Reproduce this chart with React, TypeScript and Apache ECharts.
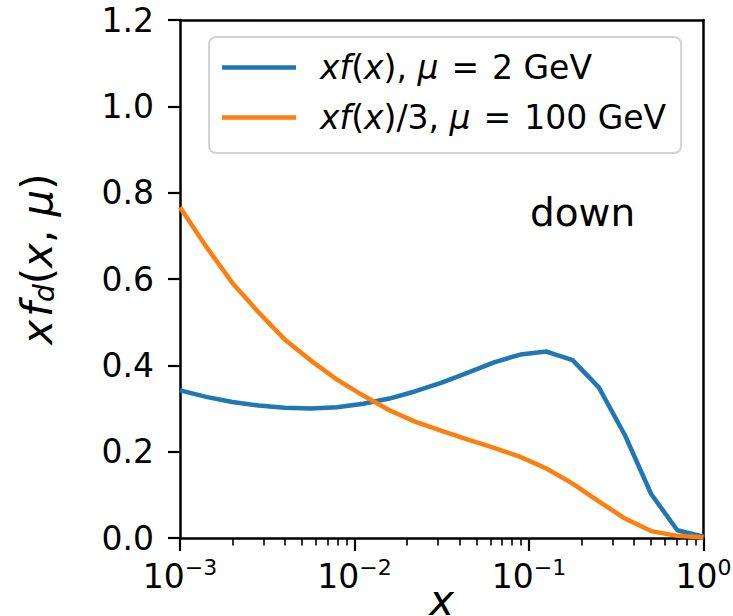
import React, { useEffect, useRef } from "react";
import * as echarts from "echarts";

const FONT = "DejaVu Sans";

// x grid (log-spaced sample points)
const xValues = [
  0.001, 0.001413, 0.001995, 0.002818, 0.003981, 0.005623, 0.007943, 0.01122,
  0.01585, 0.02239, 0.03162, 0.04467, 0.0631, 0.08913, 0.1259, 0.1778, 0.2512,
  0.3548, 0.5012, 0.7079, 1.0,
];
// xf(x), mu = 2 GeV
const blueValues = [
  0.342, 0.327, 0.315, 0.307, 0.302, 0.3, 0.303, 0.311, 0.323, 0.34, 0.36,
  0.383, 0.407, 0.425, 0.432, 0.412, 0.349, 0.238, 0.102, 0.018, 0.003,
];
// xf(x)/3, mu = 100 GeV
const orangeValues = [
  0.766, 0.675, 0.591, 0.523, 0.46, 0.411, 0.367, 0.33, 0.296, 0.269, 0.248,
  0.228, 0.209, 0.188, 0.161, 0.126, 0.085, 0.045, 0.016, 0.005, 0.001,
];
const seriesNames = ["xf(x), μ = 2 GeV", "xf(x)/3, μ = 100 GeV"];
const legendRich = [
  "{g| }{i|xf}{n|(}{i|x}{n|), }{i|μ}{e|=}{n|2 GeV}",
  "{g| }{i|xf}{n|(}{i|x}{n|)/3, }{i|μ}{e|=}{n|100 GeV}",
];
const yTicks = { min: 0, max: 1.2, interval: 0.2 };
const xRange = { min: 0.001, max: 1 };
const annotation = "down";

export default function App() {
  const ref = useRef<HTMLDivElement>(null);
  useEffect(() => {
    document.body.style.margin = "0";
    const chart = echarts.init(ref.current!, undefined, { renderer: "svg" });
    const pair = (ys: number[]) => xValues.map((x, i) => [x, ys[i]]);
    const tickLabel = (v: number) => {
      const e = Math.round(Math.log10(v));
      return "{b|10}{s|" + (e < 0 ? "−" + -e : String(e)) + "}";
    };
    const frameLine = { show: true, onZero: false, lineStyle: { color: "#000", width: 2.5 } };
    chart.setOption({
      animation: false,
      backgroundColor: "#ffffff",
      textStyle: { fontFamily: FONT },
      grid: {
        left: 180,
        right: 29.5,
        top: 20,
        bottom: 78,
        containLabel: false,
        outerBoundsMode: "none",
      },
      xAxis: [
        {
          type: "log",
          logBase: 10,
          min: xRange.min,
          max: xRange.max,
          name: "x",
          nameLocation: "middle",
          nameGap: 41,
          nameMoveOverlap: false,
          nameTextStyle: {
            fontFamily: FONT,
            fontSize: 42,
            fontStyle: "italic",
            color: "#000",
            lineHeight: 42,
          },
          axisLine: frameLine,
          axisTick: { show: true, length: 13, inside: false, lineStyle: { color: "#000", width: 2.2 } },
          minorTick: { show: true, splitNumber: 9, length: 7.5, lineStyle: { color: "#000", width: 1.6 } },
          splitLine: { show: false },
          minorSplitLine: { show: false },
          axisLabel: {
            margin: 18,
            color: "#000",
            fontFamily: FONT,
            formatter: tickLabel,
            rich: {
              b: { fontSize: 33, lineHeight: 40, fontFamily: FONT, color: "#000" },
              s: { fontSize: 22, lineHeight: 25, verticalAlign: "top", fontFamily: FONT, color: "#000" },
            },
          },
        },
        {
          type: "log",
          logBase: 10,
          position: "top",
          min: xRange.min,
          max: xRange.max,
          axisLine: frameLine,
          axisTick: { show: false },
          axisLabel: { show: false },
          splitLine: { show: false },
        },
      ],
      yAxis: [
        {
          type: "value",
          min: yTicks.min,
          max: yTicks.max,
          interval: yTicks.interval,
          name: "{i|x}{t| }{i|f}{sub|d}{n|(}{i|x}{n|, }{i|μ}{n|)}",
          nameLocation: "middle",
          nameGap: 122,
          nameRotate: 90,
          nameMoveOverlap: false,
          nameTextStyle: {
            fontFamily: FONT,
            color: "#000",
            padding: [0, 0, 0, 40],
            rich: {
              i: { fontSize: 42, fontStyle: "italic", lineHeight: 42, fontFamily: FONT, color: "#000" },
              t: { fontSize: 42, width: 3, lineHeight: 42, fontFamily: FONT },
              n: { fontSize: 42, lineHeight: 42, fontFamily: FONT, color: "#000" },
              sub: { fontSize: 28, fontStyle: "italic", lineHeight: 36, verticalAlign: "bottom", fontFamily: FONT, color: "#000" },
            },
          },
          axisLine: frameLine,
          axisTick: { show: true, length: 12, inside: false, lineStyle: { color: "#000", width: 2.2 } },
          splitLine: { show: false },
          axisLabel: {
            margin: 26,
            fontSize: 33,
            color: "#000",
            fontFamily: FONT,
            formatter: (v: number) => v.toFixed(1),
          },
        },
        {
          type: "value",
          position: "right",
          min: yTicks.min,
          max: yTicks.max,
          interval: yTicks.interval,
          axisLine: frameLine,
          axisTick: { show: false },
          axisLabel: { show: false },
          splitLine: { show: false },
        },
      ],
      legend: {
        data: seriesNames,
        orient: "vertical",
        left: 209,
        top: 37,
        icon: "rect",
        itemWidth: 74,
        itemHeight: 4.5,
        itemGap: 17,
        padding: [14, 15, 19, 13],
        borderColor: "#d4d4d4",
        borderWidth: 2,
        borderRadius: 7,
        backgroundColor: "rgba(255,255,255,0.8)",
        selectedMode: false,
        formatter: (name: string) => legendRich[seriesNames.indexOf(name)],
        textStyle: {
          fontFamily: FONT,
          color: "#000",
          rich: {
            g: { width: 19, fontSize: 33, lineHeight: 40 },
            i: { fontSize: 33, fontStyle: "italic", lineHeight: 40, fontFamily: FONT, color: "#000" },
            n: { fontSize: 33, lineHeight: 40, fontFamily: FONT, color: "#000" },
            e: { fontSize: 33, lineHeight: 40, padding: [0, 13, 0, 13], fontFamily: FONT, color: "#000" },
          },
        },
      },
      graphic: [
        {
          type: "text",
          x: 530,
          y: 212,
          style: {
            text: annotation,
            fontFamily: FONT,
            fontSize: 39,
            fill: "#000",
            verticalAlign: "middle",
            align: "left",
          },
        },
      ],
      series: [
        {
          name: seriesNames[0],
          type: "line",
          data: pair(blueValues),
          symbol: "none",
          lineStyle: { color: "#1f77b4", width: 4.5 },
          itemStyle: { color: "#1f77b4" },
          z: 3,
        },
        {
          name: seriesNames[1],
          type: "line",
          data: pair(orangeValues),
          symbol: "none",
          lineStyle: { color: "#ff7f0e", width: 4.5 },
          itemStyle: { color: "#ff7f0e" },
          z: 4,
        },
      ],
    });
    return () => chart.dispose();
  }, []);
  return <div ref={ref} style={{ width: 733, height: 616 }} />;
}
